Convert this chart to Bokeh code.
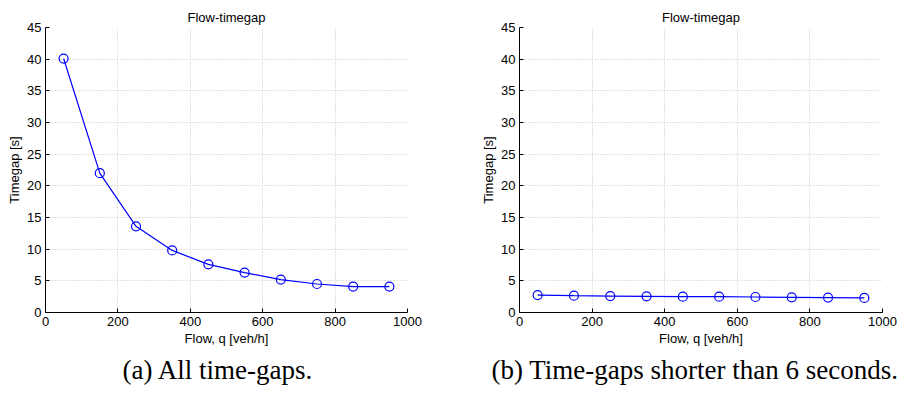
from bokeh.plotting import figure
from bokeh.layouts import row
from bokeh.models import Range1d, FixedTicker, Title
from bokeh.embed import file_html
from bokeh.resources import INLINE

flow = [50, 150, 250, 350, 450, 550, 650, 750, 850, 950]
gap_all = [40.1, 22.0, 13.6, 9.8, 7.6, 6.3, 5.2, 4.5, 4.1, 4.1]
gap_short = [2.75, 2.65, 2.6, 2.55, 2.5, 2.5, 2.45, 2.4, 2.35, 2.3]
x_ticks = [0, 200, 400, 600, 800, 1000]
y_ticks = [0, 5, 10, 15, 20, 25, 30, 35, 40, 45]
title_txt = "Flow-timegap"
xlabel = "Flow, q [veh/h]"
ylabel = "Timegap [s]"
captions = ["(a) All time-gaps.", "(b) Time-gaps shorter than 6 seconds."]

SANS = "Liberation Sans"


def make(ydata, caption, width, left, right, cap_offset):
    p = figure(width=width, height=394, output_backend="svg", toolbar_location=None,
               x_range=Range1d(0, 1000), y_range=Range1d(0, 45),
               min_border_left=left, min_border_right=right,
               min_border_top=27, min_border_bottom=82)
    p.title.text = title_txt
    p.title.align = "center"
    p.title.vertical_align = "top"
    p.title.text_font = SANS
    p.title.text_font_size = "13px"
    p.title.text_font_style = "normal"
    p.title.text_color = "#000000"
    p.title.standoff = 2
    p.outline_line_color = None
    p.background_fill_color = "white"
    p.border_fill_color = "white"

    for ax in (p.xaxis[0], p.yaxis[0]):
        ax.axis_line_color = "black"
        ax.major_tick_line_color = "black"
        ax.major_tick_in = 4
        ax.major_tick_out = 0
        ax.minor_tick_line_color = None
        ax.major_label_text_font = SANS
        ax.major_label_text_font_size = "13px"
        ax.major_label_text_color = "black"
        ax.axis_label_text_font = SANS
        ax.axis_label_text_font_size = "13px"
        ax.axis_label_text_font_style = "normal"
        ax.axis_label_text_color = "black"
        ax.major_label_standoff = 4
        ax.axis_label_standoff = 2
    p.xaxis.ticker = FixedTicker(ticks=x_ticks)
    p.yaxis.ticker = FixedTicker(ticks=y_ticks)
    p.xaxis.axis_label = xlabel
    p.yaxis.axis_label = ylabel

    for g in (p.xgrid[0], p.ygrid[0]):
        g.grid_line_color = "#c4c4c4"
        g.grid_line_dash = "1 2"
        g.grid_line_width = 1

    p.line(flow, ydata, line_color="#0000ff", line_width=1.2)
    p.scatter(flow, ydata, marker="circle", size=9, fill_color=None,
              line_color="#0000ff", line_width=1.2)

    cap = Title(text=caption, align="left", offset=cap_offset, text_font="Liberation Serif",
                text_font_size="27px", text_font_style="normal", text_color="black",
                standoff=9)
    p.add_layout(cap, "below")
    return p


p1 = make(gap_all, captions[0], 449, 45, 42, 77)
p2 = make(gap_short, captions[1], 450, 70, 17, -28)
lay = row(p1, p2)

open("out.html", "w").write(file_html(lay, INLINE))
